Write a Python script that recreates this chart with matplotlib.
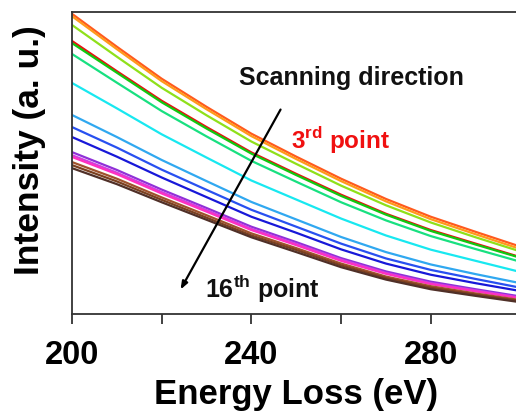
import matplotlib
matplotlib.use("Agg")
import matplotlib.pyplot as plt
from matplotlib.ticker import MultipleLocator, NullFormatter

plt.rcParams["font.family"] = ["Liberation Sans", "DejaVu Sans"]
plt.rcParams["font.weight"] = "bold"
plt.rcParams["mathtext.fontset"] = "custom"
plt.rcParams["mathtext.rm"] = "Liberation Sans:bold"
plt.rcParams["mathtext.bf"] = "Liberation Sans:bold"

# --- data (arbitrary intensity units) --------------------------------------
energy = [200, 210, 220, 230, 240, 250, 260, 270, 280, 290, 300]

spectra = [
    [99.4, 88.5, 77.9, 68.6, 59.7, 52.1, 44.8, 38.1, 32.2, 27.2, 22.3],
    [98.6, 87.7, 77.1, 67.8, 58.9, 51.3, 44.0, 37.3, 31.4, 26.4, 21.5],
    [95.7, 85.2, 74.9, 65.8, 57.1, 49.7, 42.5, 36.0, 30.3, 25.4, 20.7],
    [90.4, 80.4, 70.6, 61.9, 53.5, 46.4, 39.5, 33.2, 27.8, 23.3, 18.8],
    [89.7, 79.9, 70.1, 61.4, 53.1, 46.0, 39.1, 32.9, 27.5, 23.0, 18.6],
    [86.1, 76.6, 67.2, 58.8, 50.7, 43.8, 37.0, 31.0, 25.8, 21.5, 17.3],
    [76.5, 68.1, 59.5, 51.8, 44.2, 37.9, 31.6, 26.0, 21.3, 17.6, 13.9],
    [65.9, 58.6, 51.0, 44.0, 37.1, 31.3, 25.5, 20.5, 16.4, 13.2, 10.2],
    [61.9, 55.1, 47.8, 41.1, 34.5, 28.9, 23.3, 18.4, 14.6, 11.6, 8.7],
    [58.6, 52.1, 45.2, 38.7, 32.2, 26.9, 21.4, 16.7, 13.0, 10.2, 7.6],
    [53.6, 47.7, 41.2, 35.1, 28.9, 23.8, 18.5, 14.1, 10.7, 8.2, 5.8],
    [52.6, 46.8, 40.4, 34.4, 28.2, 23.2, 18.0, 13.6, 10.2, 7.8, 5.4],
    [52.0, 46.3, 39.9, 33.9, 27.8, 22.8, 17.6, 13.3, 9.9, 7.5, 5.2],
    [50.3, 44.8, 38.6, 32.7, 26.7, 21.8, 16.7, 12.4, 9.2, 6.8, 4.6],
    [49.3, 43.9, 37.8, 31.9, 26.0, 21.2, 16.1, 11.9, 8.7, 6.4, 4.3],
    [48.3, 43.0, 37.0, 31.2, 25.4, 20.5, 15.5, 11.4, 8.2, 6.0, 3.9],
]

colors = ["#FF5A1E", "#FF9A1A", "#8FE01A", "#E81010", "#10C810", "#18E080",
          "#18E8F0", "#30A8F0", "#2850F0", "#1818D8", "#9030D8", "#D040E0",
          "#FF30C0", "#A0522D", "#7A4020", "#503028"]

# --- figure ----------------------------------------------------------------
fig = plt.figure(figsize=(5.16, 4.12), dpi=100)
ax = fig.add_axes([72 / 516, 98 / 412, 448.5 / 516, 302 / 412])

for y, c in zip(spectra, colors):
    ax.plot(energy, y, color=c, lw=1.6)

ax.set_xlim(200, 300)
ax.set_ylim(0, 100)

ax.xaxis.set_major_locator(MultipleLocator(40))
ax.xaxis.set_minor_locator(MultipleLocator(20))
ax.xaxis.set_minor_formatter(NullFormatter())
ax.tick_params(axis="x", which="both", direction="out", length=7, width=1.3,
               color="#333333", pad=12, labelsize=23.5)
ax.set_yticks([])

for side in ("left", "top", "bottom"):
    ax.spines[side].set_linewidth(1.3)
    ax.spines[side].set_color("#333333")
ax.spines["right"].set_visible(False)

ax.set_xlabel("Energy Loss (eV)", fontsize=25, fontweight="bold", labelpad=5)
ax.set_ylabel("Intensity (a. u.)", fontsize=25.5, fontweight="bold")
ax.yaxis.set_label_coords(-0.058, 0.543)

ax.annotate("", xy=(223.9, 7.3), xytext=(246.8, 68.5),
            arrowprops=dict(arrowstyle="-|>,head_length=0.45,head_width=0.17",
                            color="black", lw=1.6))
ax.text(262.4, 78.1, "Scanning direction", fontsize=18, fontweight="bold",
        ha="center", va="center", color="#111111")
ax.text(259.8, 57.6, r"3$^{\mathrm{rd}}$ point", fontsize=17.5,
        fontweight="bold", ha="center", va="center", color="#F01010")
ax.text(242.5, 8.2, r"16$^{\mathrm{th}}$ point", fontsize=18,
        fontweight="bold", ha="center", va="center", color="#111111")

fig.savefig("out.png", dpi=100)
